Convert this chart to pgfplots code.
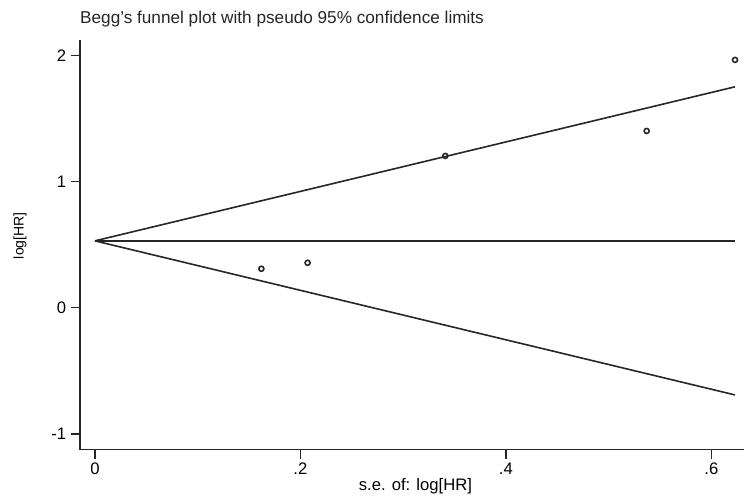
\documentclass[border=0pt]{standalone}
\usepackage{fontspec}
\setmainfont{Liberation Sans}
\usepackage{pgfplots}
\pgfplotsset{compat=1.18}
\begin{document}
\begin{tikzpicture}
\begin{axis}[
  scale only axis,
  width=498.75pt, height=307.5pt,
  xmin=-0.0146, xmax=0.632,
  ymin=-1.124, ymax=2.122,
  axis lines=left,
  axis line style={-, line width=1.1pt, color=black!85},
  clip=false,
  xtick={0,0.2,0.4,0.6},
  xticklabels={0,.2,.4,.6},
  ytick={-1,0,1,2},
  yticklabels={-1,0,1,2},
  tick align=outside,
  major tick length=6.75pt,
  tick style={line width=1.1pt, color=black!85},
  /pgf/number format/assume math mode=true,
  tick label style={font=\fontsize{12.5}{15}\selectfont},
  xlabel={s.e. of: log[HR]},
  ylabel={log[HR]},
  xlabel style={font=\fontsize{12.5}{15}\selectfont, at={(axis description cs:0.505,-0.090)}, anchor=center},
  ylabel style={font=\fontsize{10.5}{12}\selectfont, at={(axis description cs:-0.090,0.522)}, anchor=center},
]
\addplot[black!85, line width=1.2pt] coordinates {(0,0.53) (0.623,1.751)};
\addplot[black!85, line width=1.2pt] coordinates {(0,0.53) (0.623,0.53)};
\addplot[black!85, line width=1.2pt] coordinates {(0,0.53) (0.623,-0.691)};
\addplot[only marks, mark=o, mark size=1.9pt, mark options={line width=1.2pt, black!85}] coordinates {
(0.162,0.309) (0.207,0.356) (0.341,1.203) (0.537,1.401) (0.623,1.964)};
\node[anchor=west, inner sep=0pt, font=\fontsize{12.9}{15}\selectfont, text=black!85] at (axis description cs:0,1.051) {Begg's funnel plot with pseudo 95\% confidence limits};
\path (axis description cs:-0.1203,-0.1098) rectangle (axis description cs:1,1.0976);
\end{axis}
\end{tikzpicture}
\end{document}
